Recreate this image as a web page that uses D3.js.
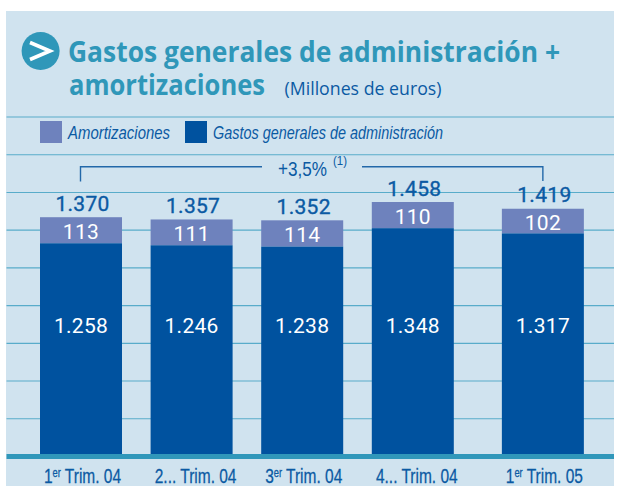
<!DOCTYPE html>
<html><head><meta charset="utf-8">
<script src="https://cdn.jsdelivr.net/npm/d3@7/dist/d3.min.js"></script>
<style>html,body{margin:0;padding:0;background:#fff}svg{display:block}</style>
</head><body><svg id="c" width="624" height="486"></svg>
<script>
const categories = ["1|er| Trim. 04", "2... Trim. 04", "3|er| Trim. 04", "4... Trim. 04", "1|er| Trim. 05"];
const totals = [1370, 1357, 1352, 1458, 1419];
const amortizaciones = [113, 111, 114, 110, 102];
const gastos = [1258, 1246, 1238, 1348, 1317];
const legendLabels = ["Amortizaciones", "Gastos generales de administración"];
const titleLines = ["Gastos generales de administración +", "amortizaciones"];
const unitLabel = "(Millones de euros)";
const growthLabel = "+3,5%";
const growthNote = "(1)";

const C = {panel:"#d0e3ef", title:"#2f97b9", dark:"#00529f", amort:"#6e82bd", grid:"#58acca", band:"#3097ba", text:"#0b5aa3", bracket:"#2268a9"};
const fmt = v => d3.format(",")(v).replace(",", ".");
const svg = d3.select("#c");
const sans = "'Open Sans',sans-serif", num = "Roboto,sans-serif", narrow = "'Liberation Sans',sans-serif";
const fit = (sel,w) => sel.attr("textLength",w).attr("lengthAdjust","spacingAndGlyphs");

svg.append("rect").attr("x",6).attr("y",11).attr("width",608).attr("height",475).attr("fill",C.panel);

// Rules
const yRule = d3.scaleLinear().domain([0,9]).range([456.5,117]);
svg.append("g").selectAll("line").data(d3.range(1,10)).join("line")
  .attr("x1",6.5).attr("x2",614).attr("y1",d=>yRule(d)).attr("y2",d=>yRule(d))
  .attr("stroke",C.grid).attr("stroke-width",1.1);

// Scales: the source draws its totals and its inner split on slightly different scales
const yTotal = d3.scaleLinear().domain([0,1458]).range([454,202]);
const yGastos = d3.scaleLinear().domain([0,1348]).range([454,228.2]);
const gapBeforeLast = 0.176;
const xIdx = d3.scaleLinear().domain([0,1]).range([81,191.6]);
const x = i => xIdx(i + (i === categories.length-1 ? gapBeforeLast : 0));
const barW = 82;
const idx = d3.range(categories.length);

const bars = svg.append("g");
bars.selectAll("rect.a").data(idx).join("rect").attr("class","a")
  .attr("x",i=>x(i)-barW/2).attr("width",barW)
  .attr("y",i=>yTotal(totals[i])).attr("height",i=>yGastos(gastos[i])-yTotal(totals[i]))
  .attr("fill",C.amort);
bars.selectAll("rect.g").data(idx).join("rect").attr("class","g")
  .attr("x",i=>x(i)-barW/2).attr("width",barW)
  .attr("y",i=>yGastos(gastos[i])).attr("height",i=>454-yGastos(gastos[i]))
  .attr("fill",C.dark);

svg.append("rect").attr("x",6.5).attr("y",454).attr("width",607.5).attr("height",5).attr("fill",C.band);

// Value labels
const lab = svg.append("g").attr("font-family",num).attr("font-size",21).attr("text-anchor","middle").attr("letter-spacing",0.3);
lab.selectAll("text.t").data(idx).join("text").attr("class","t")
  .attr("stroke",C.text).attr("stroke-width",0.35)
  .attr("x",i=>x(i)+1.5).attr("y",i=>yTotal(totals[i])-6.5).attr("fill",C.text).text(i=>fmt(totals[i]));
lab.selectAll("text.m").data(idx).join("text").attr("class","m")
  .attr("x",i=>x(i)).attr("y",i=>(yTotal(totals[i])+yGastos(gastos[i]))/2+9).attr("fill","#fff").text(i=>amortizaciones[i]);
lab.selectAll("text.b").data(idx).join("text").attr("class","b")
  .attr("x",i=>x(i)).attr("y",333).attr("fill","#fff").text(i=>fmt(gastos[i]));

// Category labels
idx.forEach(i=>{
  const parts = categories[i].split("|");
  const g = svg.append("g").attr("transform",`translate(${x(i)+(parts.length===1?4:1.5)},483) scale(0.775,1)`)
    .attr("font-family",narrow).attr("font-size",20).attr("fill",C.text).attr("text-anchor","middle")
    .attr("stroke",C.text).attr("stroke-width",0.25);
  const t = g.append("text");
  if(parts.length===1){ t.text(parts[0]); return; }
  t.append("tspan").text(parts[0]);
  t.append("tspan").attr("font-size",12).attr("dy",-6).text(parts[1]);
  t.append("tspan").attr("dy",6).text(parts[2]);
});

// Title
svg.append("circle").attr("cx",40.6).attr("cy",51).attr("r",19).attr("fill",C.title);
svg.append("path").attr("d",d3.line()([[30,42.5],[50,51],[30,59.5]])).attr("fill","none").attr("stroke","#fff").attr("stroke-width",3.6);
const tt = svg.append("g").attr("font-family",sans).attr("font-weight",700).attr("font-size",29).attr("fill",C.title);
fit(tt.append("text").attr("x",68).attr("y",62).text(titleLines[0]),492);
fit(tt.append("text").attr("x",69).attr("y",95).text(titleLines[1]),196);
fit(svg.append("text").attr("x",284.5).attr("y",95).attr("font-family",sans).attr("font-size",18.5).attr("fill",C.text).text(unitLabel),157);

// Legend
const legendColors = [C.amort, C.dark], legendSwatchX = [40,185], legendWidths = [102,230];
legendLabels.forEach((l,i)=>{
  svg.append("rect").attr("x",legendSwatchX[i]).attr("y",121).attr("width",22).attr("height",22).attr("fill",legendColors[i]);
  fit(svg.append("text").attr("x",legendSwatchX[i]+28).attr("y",139).attr("font-family",narrow).attr("font-style","italic").attr("font-size",18).attr("fill",C.text).text(l),legendWidths[i]);
});

// Growth bracket
const br = svg.append("g").attr("fill","none").attr("stroke",C.bracket).attr("stroke-width",1.4);
br.append("path").attr("d",d3.line()([[x(0)-0.5,181.5],[x(0)-0.5,166.7],[262,166.7]]));
br.append("path").attr("d",d3.line()([[362,166.7],[x(4),166.7],[x(4),181]]));
fit(svg.append("text").attr("x",278).attr("y",176).attr("font-family",narrow).attr("font-size",20).attr("fill",C.text).text(growthLabel),49);
fit(svg.append("text").attr("x",333).attr("y",165).attr("font-family",narrow).attr("font-size",13).attr("fill",C.text).text(growthNote),14);
</script></body></html>
